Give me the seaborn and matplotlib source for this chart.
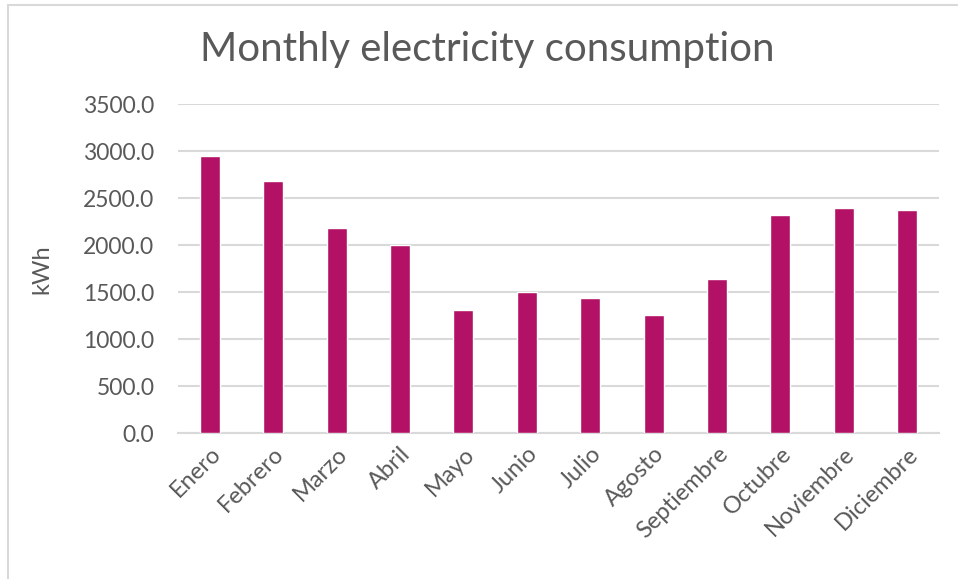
import pandas as pd
import matplotlib.pyplot as plt
import seaborn as sns
from matplotlib.lines import Line2D

# monthly values (kWh)
months = ['Enero', 'Febrero', 'Marzo', 'Abril', 'Mayo', 'Junio', 'Julio',
          'Agosto', 'Septiembre', 'Octubre', 'Noviembre', 'Diciembre']
kwh = [2955, 2682, 2186, 1998, 1308, 1502, 1438, 1257, 1643, 2317, 2396, 2379]
yticks = [0, 500, 1000, 1500, 2000, 2500, 3000, 3500]

df = pd.DataFrame({'Month': months, 'kWh': kwh})

sns.set_style('white')
plt.rcParams['font.family'] = ['Lato', 'DejaVu Sans']
grey = '#595959'

fig = plt.figure(figsize=(9.58, 5.79), dpi=100)
ax = fig.add_axes([0.1858, 0.2516, 0.7944, 0.5683])

sns.barplot(data=df, x='Month', y='kWh', color='#B31166', width=0.315,
            saturation=1, ax=ax, zorder=3)

ax.set_ylim(0, 3500)
ax.set_yticks(yticks)
ax.set_yticklabels([f'{v:.1f}' for v in yticks])
ax.yaxis.grid(True, color='#D9D9D9', linewidth=1.5, zorder=0)
ax.set_axisbelow(True)
for s in ['top', 'right', 'left']:
    ax.spines[s].set_visible(False)
ax.spines['bottom'].set_color('#D9D9D9')
ax.spines['bottom'].set_linewidth(1.5)
ax.tick_params(axis='both', length=0, labelcolor=grey)
ax.tick_params(axis='y', pad=17, labelsize=16.5)
ax.tick_params(axis='x', pad=7, labelsize=17)
plt.setp(ax.get_xticklabels(), rotation=45, ha='right', rotation_mode='anchor')

ax.set_xlabel('')
ax.set_ylabel('kWh', fontsize=17, color=grey, labelpad=22)

fig.text(0.509, 0.915, 'Monthly electricity consumption', ha='center',
         va='center', fontsize=29, color=grey)

# chart frame (top and left edges)
fig.add_artist(Line2D([0.0084, 1.0], [0.9914, 0.9914], color='#D9D9D9',
                      linewidth=1.5, transform=fig.transFigure))
fig.add_artist(Line2D([0.0084, 0.0084], [0.0, 0.9914], color='#D9D9D9',
                      linewidth=1.5, transform=fig.transFigure))

fig.savefig('out.png', dpi=100)
